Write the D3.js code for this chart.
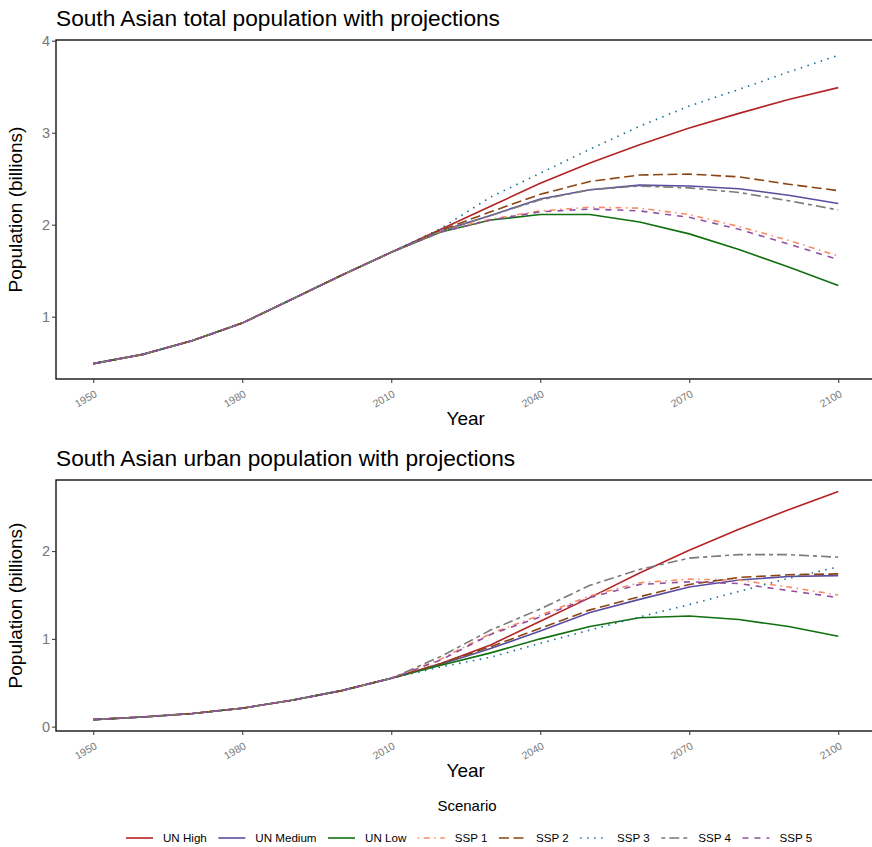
<!DOCTYPE html>
<html>
<head>
    <meta charset="utf-8">
    <title>South Asian population projections</title>
    <script src="https://cdn.jsdelivr.net/npm/d3@7"></script>
    <style>
        body { margin: 0; background: #fff; }
        text { font-family: "Liberation Sans", Arial, Helvetica, sans-serif; }
    </style>
</head>
<body>
    <svg width="872" height="847" id="mainsvg"></svg>
    <script>
        // ---- data (billions) ----
        const years = [1950, 1960, 1970, 1980, 1990, 2000, 2010, 2020, 2030, 2040, 2050, 2060, 2070, 2080, 2090, 2100];
        const scenarios = ['UN High', 'UN Medium', 'UN Low', 'SSP 1', 'SSP 2', 'SSP 3', 'SSP 4', 'SSP 5'];

        // observed part 1950-2010, shared by every scenario
        const totalHist = [0.49, 0.59, 0.74, 0.93, 1.19, 1.45, 1.70];
        const urbanHist = [0.08, 0.11, 0.15, 0.21, 0.30, 0.41, 0.55];

        // projections 2020-2100
        const totalUNHigh = [1.95, 2.20, 2.45, 2.67, 2.87, 3.05, 3.21, 3.36, 3.49];
        const totalUNMedium = [1.93, 2.10, 2.28, 2.38, 2.43, 2.42, 2.39, 2.32, 2.23];
        const totalUNLow = [1.92, 2.05, 2.11, 2.11, 2.03, 1.90, 1.73, 1.54, 1.34];
        const totalSSP1 = [1.93, 2.06, 2.15, 2.19, 2.18, 2.11, 1.98, 1.83, 1.66];
        const totalSSP2 = [1.94, 2.14, 2.33, 2.47, 2.54, 2.55, 2.52, 2.44, 2.37];
        const totalSSP3 = [1.96, 2.30, 2.56, 2.82, 3.07, 3.29, 3.47, 3.66, 3.84];
        const totalSSP4 = [1.93, 2.10, 2.27, 2.38, 2.42, 2.40, 2.35, 2.26, 2.16];
        const totalSSP5 = [1.92, 2.05, 2.14, 2.17, 2.15, 2.08, 1.95, 1.79, 1.62];

        const urbanUNHigh = [0.72, 0.93, 1.20, 1.47, 1.75, 2.01, 2.25, 2.47, 2.68];
        const urbanUNMedium = [0.71, 0.89, 1.09, 1.30, 1.45, 1.59, 1.67, 1.71, 1.72];
        const urbanUNLow = [0.70, 0.84, 1.00, 1.14, 1.24, 1.26, 1.22, 1.14, 1.03];
        const urbanSSP1 = [0.77, 1.06, 1.27, 1.49, 1.64, 1.68, 1.67, 1.59, 1.50];
        const urbanSSP2 = [0.72, 0.91, 1.12, 1.33, 1.48, 1.62, 1.70, 1.73, 1.74];
        const urbanSSP3 = [0.68, 0.79, 0.95, 1.10, 1.25, 1.39, 1.54, 1.69, 1.82];
        const urbanSSP4 = [0.80, 1.10, 1.34, 1.61, 1.79, 1.92, 1.96, 1.96, 1.93];
        const urbanSSP5 = [0.76, 1.05, 1.25, 1.47, 1.62, 1.65, 1.63, 1.55, 1.47];

        const xTicks = [1950, 1980, 2010, 2040, 2070, 2100];
        const totalTicks = [1, 2, 3, 4];
        const urbanTicks = [0, 1, 2];

        // ---- styles ----
        const colors = ['#B42424', '#5B4D9F', '#10700F', '#F88B63', '#8B4513', '#1A6E94', '#7A7A7A', '#9350A0'];
        const dashes = [null, null, null, '1.5,4.5,6,4.5', '10,4.5', '1.5,5.5', '4,4,10,4', '6,6'];

        const svg = d3.select('#mainsvg');
        const left = 56, right = 875.5;

        const xScale = d3.scaleLinear()
            .domain([1942.5, 2107.5])
            .range([left, right]);

        const build = (hist, proj) => proj.map(p => hist.concat(p).map((v, i) => ({ year: years[i], value: v })));

        const drawPanel = function (cfg) {
            const g = svg.append('g');
            const all = cfg.series.flat().map(d => d.value);
            const [lo, hi] = d3.extent(all);
            const pad = (hi - lo) * 0.05;
            const yScale = d3.scaleLinear()
                .domain([lo - pad, hi + pad])
                .range([cfg.bottom, cfg.top]);

            // title
            g.append('text')
                .attr('x', left)
                .attr('y', cfg.top - 14)
                .attr('font-size', '22.7px')
                .attr('fill', 'black')
                .text(cfg.title);

            // lines
            const line = d3.line()
                .x(d => xScale(d.year))
                .y(d => yScale(d.value));
            g.append('g').selectAll('path').data(cfg.series)
                .join('path')
                .attr('d', line)
                .attr('fill', 'none')
                .attr('stroke', (d, i) => colors[i])
                .attr('stroke-width', 1.6)
                .attr('stroke-dasharray', (d, i) => dashes[i]);

            // border
            g.append('rect')
                .attr('x', left)
                .attr('y', cfg.top)
                .attr('width', right - left)
                .attr('height', cfg.bottom - cfg.top)
                .attr('fill', 'none')
                .attr('stroke', 'black')
                .attr('stroke-width', 1.3);

            // y axis
            const yAxis = d3.axisLeft(yScale)
                .tickValues(cfg.ticks)
                .tickFormat(d3.format('d'))
                .tickSize(4)
                .tickPadding(2);
            const yg = g.append('g')
                .attr('transform', `translate(${left}, 0)`)
                .call(yAxis);
            yg.selectAll('.domain').remove();
            yg.selectAll('.tick line').attr('stroke', '#333');
            yg.selectAll('.tick text')
                .attr('font-size', '14.5px')
                .attr('fill', '#777');

            // x axis
            const xAxis = d3.axisBottom(xScale)
                .tickValues(xTicks)
                .tickFormat(d3.format('d'))
                .tickSize(4);
            const xg = g.append('g')
                .attr('transform', `translate(0, ${cfg.bottom})`)
                .call(xAxis);
            xg.selectAll('.domain').remove();
            xg.selectAll('.tick line').attr('stroke', '#333');
            xg.selectAll('.tick text')
                .attr('font-size', '10.5px')
                .attr('fill', '#7a7a7a')
                .attr('text-anchor', 'end')
                .attr('dy', null)
                .attr('y', null)
                .attr('transform', 'translate(4, 17) rotate(-30)');

            // axis titles
            g.append('text')
                .attr('x', (left + right) / 2)
                .attr('y', cfg.bottom + 46)
                .attr('text-anchor', 'middle')
                .attr('font-size', '19px')
                .text('Year');
            g.append('text')
                .attr('transform', `translate(21.5, ${(cfg.top + cfg.bottom) / 2}) rotate(-90)`)
                .attr('text-anchor', 'middle')
                .attr('font-size', '19px')
                .text('Population (billions)');
        };

        drawPanel({
            title: 'South Asian total population with projections',
            top: 40, bottom: 379,
            ticks: totalTicks,
            series: build(totalHist, [totalUNHigh, totalUNMedium, totalUNLow, totalSSP1, totalSSP2, totalSSP3, totalSSP4, totalSSP5])
        });

        drawPanel({
            title: 'South Asian urban population with projections',
            top: 480, bottom: 731,
            ticks: urbanTicks,
            series: build(urbanHist, [urbanUNHigh, urbanUNMedium, urbanUNLow, urbanSSP1, urbanSSP2, urbanSSP3, urbanSSP4, urbanSSP5])
        });

        // ---- legend ----
        const legend = svg.append('g');
        legend.append('text')
            .attr('x', 467)
            .attr('y', 811)
            .attr('text-anchor', 'middle')
            .attr('font-size', '15px')
            .text('Scenario');

        const keyW = 27, keyGap = 10, itemGap = 11.5;
        let lx = 126;
        scenarios.forEach((s, i) => {
            legend.append('line')
                .attr('x1', lx).attr('x2', lx + keyW)
                .attr('y1', 838).attr('y2', 838)
                .attr('stroke', colors[i])
                .attr('stroke-width', 1.6)
                .attr('stroke-dasharray', dashes[i]);
            const t = legend.append('text')
                .attr('x', lx + keyW + keyGap)
                .attr('y', 842)
                .attr('font-size', '11.6px')
                .text(s);
            lx += keyW + keyGap + t.node().getComputedTextLength() + itemGap;
        });
    </script>
</body>
</html>
